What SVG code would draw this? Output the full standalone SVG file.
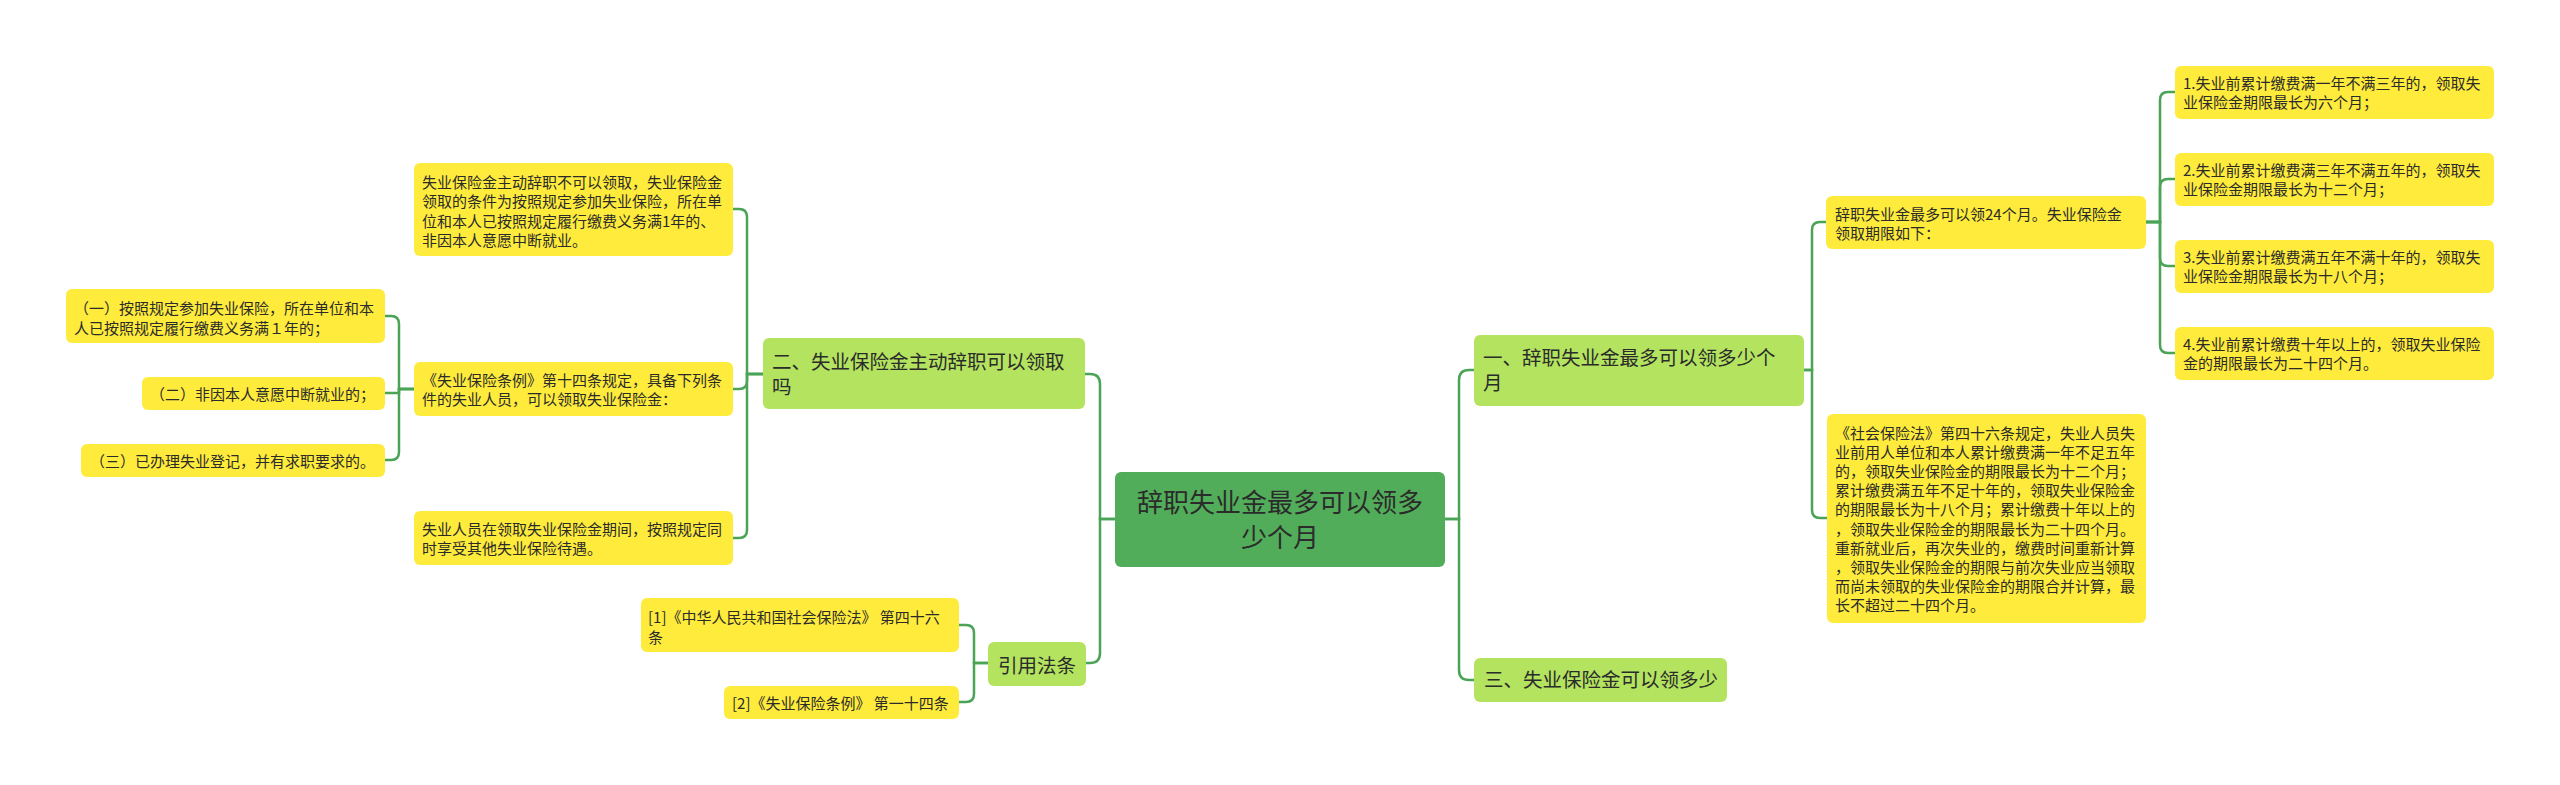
<svg xmlns="http://www.w3.org/2000/svg" width="2560" height="785" viewBox="0 0 2560 785">
<style>
text{font-family:"Noto Sans CJK SC","Noto Sans",sans-serif;fill:#2b2b2b}
.root rect{fill:#52ad5a}
.l1 rect{fill:#b3e35f}
.l2 rect{fill:#ffeb3b}
.t26{font-size:26px}
.t20{font-size:19.5px}
.t15{font-size:15px}
.c path{fill:none;stroke:#4ba356;stroke-width:2.5}
</style>
<rect width="2560" height="785" fill="#ffffff"/>
<g class="c" id="connectors">
<path d="M1115,519 H1100 V384 Q1100,374 1090,374 H1085"/>
<path d="M1115,519 H1100 V653 Q1100,663 1090,663 H1086"/>
<path d="M1445,519 H1459 V380 Q1459,370 1469,370 H1474"/>
<path d="M1445,519 H1459 V670 Q1459,680 1469,680 H1474"/>
<path d="M1804,370 H1812 V230 Q1812,222 1820,222 H1826"/>
<path d="M1804,370 H1812 V510 Q1812,518 1820,518 H1827"/>
<path d="M2146,222 H2160 V100 Q2160,92 2168,92 H2175"/>
<path d="M2146,222 H2160 V187 Q2160,179 2168,179 H2175"/>
<path d="M2146,222 H2160 V258 Q2160,266 2168,266 H2175"/>
<path d="M2146,222 H2160 V345 Q2160,353 2168,353 H2175"/>
<path d="M763,374 H747 V217 Q747,209 739,209 H733"/>
<path d="M763,374 H747 V381 Q747,389 739,389 H733"/>
<path d="M763,374 H747 V530 Q747,538 739,538 H733"/>
<path d="M414,389 H399 V324 Q399,316 391,316 H385"/>
<path d="M414,389 H399 V393 H385"/>
<path d="M414,389 H399 V452 Q399,460 391,460 H385"/>
<path d="M988,663 H974 V633 Q974,625 966,625 H959"/>
<path d="M988,663 H974 V694 Q974,702 966,702 H959"/>
</g>
<g id="root" class="root">
<rect x="1115" y="472" width="330" height="95" rx="6"/>
<text class="t26" x="1280" y="511.5" text-anchor="middle">辞职失业金最多可以领多</text>
<text class="t26" x="1280" y="546.5" text-anchor="middle">少个月</text>
</g>
<g id="n1" class="l1">
<rect x="1474" y="335" width="330" height="71" rx="6"/>
<text class="t20" x="1483" y="365">一、辞职失业金最多可以领多少个</text>
<text class="t20" x="1483" y="390">月</text>
</g>
<g id="n3" class="l1">
<rect x="1474" y="658" width="253" height="44" rx="6"/>
<text class="t20" x="1484" y="687">三、失业保险金可以领多少</text>
</g>
<g id="n2" class="l1">
<rect x="763" y="338" width="322" height="71" rx="6"/>
<text class="t20" x="772" y="369">二、失业保险金主动辞职可以领取</text>
<text class="t20" x="772" y="394">吗</text>
</g>
<g id="nref" class="l1">
<rect x="988" y="642" width="98" height="44" rx="6"/>
<text class="t20" x="998" y="673">引用法条</text>
</g>
<g id="nA" class="l2">
<rect x="414" y="163" width="319" height="93" rx="6"/>
<text class="t15" x="422" y="187.5">失业保险金主动辞职不可以领取，失业保险金</text>
<text class="t15" x="422" y="207">领取的条件为按照规定参加失业保险，所在单</text>
<text class="t15" x="422" y="226.5">位和本人已按照规定履行缴费义务满1年的、</text>
<text class="t15" x="422" y="246">非因本人意愿中断就业。</text>
</g>
<g id="nB" class="l2">
<rect x="414" y="362" width="319" height="54" rx="6"/>
<text class="t15" x="422" y="385.5">《失业保险条例》第十四条规定，具备下列条</text>
<text class="t15" x="422" y="404.5">件的失业人员，可以领取失业保险金：</text>
</g>
<g id="nC" class="l2">
<rect x="414" y="511" width="319" height="54" rx="6"/>
<text class="t15" x="422" y="534.5">失业人员在领取失业保险金期间，按照规定同</text>
<text class="t15" x="422" y="553.5">时享受其他失业保险待遇。</text>
</g>
<g id="nD" class="l2">
<rect x="66" y="289" width="319" height="54" rx="6"/>
<text class="t15" x="74" y="313.5">（一）按照规定参加失业保险，所在单位和本</text>
<text class="t15" x="74" y="333.5">人已按照规定履行缴费义务满１年的；</text>
</g>
<g id="nE" class="l2">
<rect x="142" y="377" width="243" height="33" rx="6"/>
<text class="t15" x="150" y="400">（二）非因本人意愿中断就业的；</text>
</g>
<g id="nF" class="l2">
<rect x="81" y="444" width="304" height="33" rx="6"/>
<text class="t15" x="90" y="467">（三）已办理失业登记，并有求职要求的。</text>
</g>
<g id="nG" class="l2">
<rect x="641" y="598" width="318" height="54" rx="6"/>
<text class="t15" x="648" y="622.5">[1]《中华人民共和国社会保险法》 第四十六</text>
<text class="t15" x="648" y="642.5">条</text>
</g>
<g id="nH" class="l2">
<rect x="724" y="686" width="235" height="33" rx="6"/>
<text class="t15" x="732" y="708.5">[2]《失业保险条例》 第一十四条</text>
</g>
<g id="nI" class="l2">
<rect x="1826" y="196" width="320" height="53" rx="6"/>
<text class="t15" x="1835" y="219.5">辞职失业金最多可以领24个月。失业保险金</text>
<text class="t15" x="1835" y="238.5">领取期限如下：</text>
</g>
<g id="nJ" class="l2">
<rect x="1827" y="414" width="319" height="209" rx="6"/>
<text class="t15" x="1835" y="438.5">《社会保险法》第四十六条规定，失业人员失</text>
<text class="t15" x="1835" y="457.7">业前用人单位和本人累计缴费满一年不足五年</text>
<text class="t15" x="1835" y="476.9">的，领取失业保险金的期限最长为十二个月；</text>
<text class="t15" x="1835" y="496.1">累计缴费满五年不足十年的，领取失业保险金</text>
<text class="t15" x="1835" y="515.3">的期限最长为十八个月；累计缴费十年以上的</text>
<text class="t15" x="1835" y="534.5">，领取失业保险金的期限最长为二十四个月。</text>
<text class="t15" x="1835" y="553.7">重新就业后，再次失业的，缴费时间重新计算</text>
<text class="t15" x="1835" y="572.9">，领取失业保险金的期限与前次失业应当领取</text>
<text class="t15" x="1835" y="592.1">而尚未领取的失业保险金的期限合并计算，最</text>
<text class="t15" x="1835" y="611.3">长不超过二十四个月。</text>
</g>
<g id="nK1" class="l2">
<rect x="2175" y="66" width="319" height="53" rx="6"/>
<text class="t15" x="2183" y="88.5">1.失业前累计缴费满一年不满三年的，领取失</text>
<text class="t15" x="2183" y="108">业保险金期限最长为六个月；</text>
</g>
<g id="nK2" class="l2">
<rect x="2175" y="153" width="319" height="53" rx="6"/>
<text class="t15" x="2183" y="175.5">2.失业前累计缴费满三年不满五年的，领取失</text>
<text class="t15" x="2183" y="195">业保险金期限最长为十二个月；</text>
</g>
<g id="nK3" class="l2">
<rect x="2175" y="240" width="319" height="53" rx="6"/>
<text class="t15" x="2183" y="262.5">3.失业前累计缴费满五年不满十年的，领取失</text>
<text class="t15" x="2183" y="282">业保险金期限最长为十八个月；</text>
</g>
<g id="nK4" class="l2">
<rect x="2175" y="327" width="319" height="53" rx="6"/>
<text class="t15" x="2183" y="349.5">4.失业前累计缴费十年以上的，领取失业保险</text>
<text class="t15" x="2183" y="369">金的期限最长为二十四个月。</text>
</g>
</svg>
